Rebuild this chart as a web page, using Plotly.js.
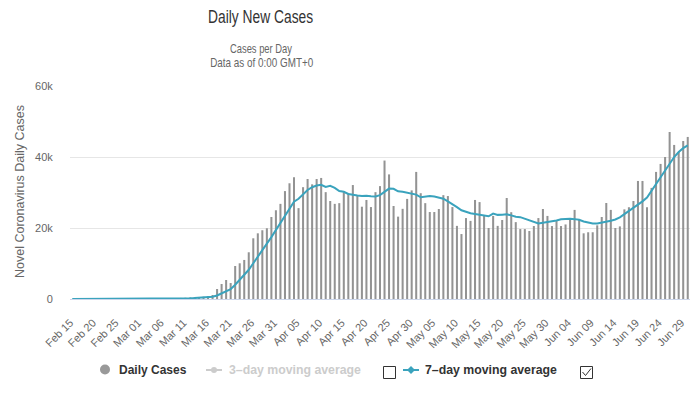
<!DOCTYPE html>
<html>
<head>
<meta charset="utf-8">
<script src="https://cdn.plot.ly/plotly-3.0.1.min.js"></script>
<style>
html,body{margin:0;padding:0;background:#fff;}
#chart{width:699px;height:394px;}
</style>
</head>
<body>
<div id="chart"></div>
<script>
const dates = [
"Feb 15","Feb 16","Feb 17","Feb 18","Feb 19","Feb 20","Feb 21","Feb 22","Feb 23","Feb 24","Feb 25","Feb 26","Feb 27","Feb 28","Feb 29",
"Mar 01","Mar 02","Mar 03","Mar 04","Mar 05","Mar 06","Mar 07","Mar 08","Mar 09","Mar 10","Mar 11","Mar 12","Mar 13","Mar 14","Mar 15","Mar 16","Mar 17","Mar 18","Mar 19","Mar 20","Mar 21","Mar 22","Mar 23","Mar 24","Mar 25","Mar 26","Mar 27","Mar 28","Mar 29","Mar 30","Mar 31",
"Apr 01","Apr 02","Apr 03","Apr 04","Apr 05","Apr 06","Apr 07","Apr 08","Apr 09","Apr 10","Apr 11","Apr 12","Apr 13","Apr 14","Apr 15","Apr 16","Apr 17","Apr 18","Apr 19","Apr 20","Apr 21","Apr 22","Apr 23","Apr 24","Apr 25","Apr 26","Apr 27","Apr 28","Apr 29","Apr 30",
"May 01","May 02","May 03","May 04","May 05","May 06","May 07","May 08","May 09","May 10","May 11","May 12","May 13","May 14","May 15","May 16","May 17","May 18","May 19","May 20","May 21","May 22","May 23","May 24","May 25","May 26","May 27","May 28","May 29","May 30","May 31",
"Jun 01","Jun 02","Jun 03","Jun 04","Jun 05","Jun 06","Jun 07","Jun 08","Jun 09","Jun 10","Jun 11","Jun 12","Jun 13","Jun 14","Jun 15","Jun 16","Jun 17","Jun 18","Jun 19","Jun 20","Jun 21","Jun 22","Jun 23","Jun 24","Jun 25","Jun 26","Jun 27","Jun 28","Jun 29","Jun 30"
];

const tickLabels = ["Feb 15","Feb 20","Feb 25","Mar 01","Mar 06","Mar 11","Mar 16","Mar 21","Mar 26","Mar 31","Apr 05","Apr 10","Apr 15","Apr 20","Apr 25","Apr 30","May 05","May 10","May 15","May 20","May 25","May 30","Jun 04","Jun 09","Jun 14","Jun 19","Jun 24","Jun 29"];

const dailyCases = [
// Feb 15 - Feb 29
0,0,0,0,0,0,2,0,0,18,0,6,1,2,8,
// Mar
6,23,20,31,68,45,140,116,65,300,350,400,500,550,650,800,1130,2820,4230,5360,4500,9300,10060,11000,13160,17100,18500,19370,19930,23100,25000,
// Apr
26800,30400,32600,34300,25600,31500,33800,32300,33800,34100,30100,27600,26800,27000,30100,29800,32100,29300,26000,27900,25900,30100,31800,39000,35100,26200,23200,25400,28200,30600,
// May
35800,29800,27000,24500,24500,25350,29250,29000,25900,20600,18300,22800,22000,27900,27300,23400,20000,23400,20600,22250,28450,24450,21650,19700,19700,19150,20550,22800,25350,23400,20550,
// Jun
21950,20550,21000,22550,25100,22450,18500,18800,18800,20750,23100,27050,25100,20000,20450,25250,25850,27600,33250,33250,25850,31300,35800,38050,40000,47050,43400,41400,44500,45650
];

const movingAvg7 = [
// Feb 15 - Feb 29
0,0,0,0,0,0,0,0,0,3,3,4,4,4,5,
// Mar
5,8,10,13,22,28,45,60,68,110,160,210,270,360,440,510,630,980,1530,2220,2780,4020,5340,6750,8230,10070,11950,14070,15590,17440,19440,
// Apr
21390,23280,25290,27430,28230,29450,30700,31480,31970,32190,31590,31880,31300,30400,30200,29600,29300,29150,29000,29100,28950,28900,29250,30300,31100,31050,30350,30200,30000,29700,
// May
29400,28650,28750,29000,28850,28500,28250,27500,26800,25900,25000,24550,24150,23950,23700,23400,23300,24050,23700,23750,23850,23550,23150,23050,22600,22300,21850,21300,21500,21700,21750,
// Jun
22100,22450,22600,22600,22500,22300,21850,21450,21250,21300,21500,21800,22050,22400,23000,23900,24800,25600,26500,27500,28600,30500,32500,34500,36400,38300,40000,41400,42500,43300
];

const yTickVals = [0, 20000, 40000, 60000];
const yTickText = ["0", "20k", "40k", "60k"];

// pixel -> paper helpers (plot area: x 70..690, y 86..299)
const PL = 70, PW = 620, PT = 86, PH = 213;
const X = px => (px - PL) / PW;
const Y = py => (PT + PH - py) / PH;

const barColor = "#939393";
const lineColor = "#3aa3bd";
const sans = "Liberation Sans, Arial, Helvetica, sans-serif";

const traces = [
  {
    type: "bar",
    x: dates,
    y: dailyCases,
    marker: {color: barColor},
    hoverinfo: "skip",
    showlegend: false
  },
  {
    type: "scatter",
    mode: "lines",
    x: dates,
    y: movingAvg7,
    line: {color: lineColor, width: 2},
    cliponaxis: false,
    hoverinfo: "skip",
    showlegend: false
  }
];

const shapes = [
  {type:"circle", xref:"paper", yref:"paper", x0:X(100), x1:X(110), y0:Y(374.5), y1:Y(364.5), fillcolor:"#999999", line:{width:0}},
  {type:"line", xref:"paper", yref:"paper", x0:X(206), x1:X(222), y0:Y(370), y1:Y(370), line:{color:"#cccccc", width:2}},
  {type:"circle", xref:"paper", yref:"paper", x0:X(211), x1:X(217), y0:Y(373), y1:Y(367), fillcolor:"#cccccc", line:{width:0}},
  {type:"rect", xref:"paper", yref:"paper", x0:X(383.5), x1:X(395.5), y0:Y(378.5), y1:Y(366.5), fillcolor:"#ffffff", line:{color:"#333333", width:1}},
  {type:"line", xref:"paper", yref:"paper", x0:X(403), x1:X(419), y0:Y(370), y1:Y(370), line:{color:lineColor, width:2}},
  {type:"path", xref:"paper", yref:"paper",
   path:"M "+X(411)+" "+Y(366)+" L "+X(415)+" "+Y(370)+" L "+X(411)+" "+Y(374)+" L "+X(407)+" "+Y(370)+" Z",
   fillcolor:lineColor, line:{width:0}},
  {type:"rect", xref:"paper", yref:"paper", x0:X(580.5), x1:X(592.5), y0:Y(378.5), y1:Y(366.5), fillcolor:"#ffffff", line:{color:"#333333", width:1}},
  {type:"path", xref:"paper", yref:"paper",
   path:"M "+X(582.5)+" "+Y(372)+" L "+X(585.5)+" "+Y(375.5)+" L "+X(591)+" "+Y(368.5),
   line:{color:"#333333", width:1}}
];

const titleText = "Daily New Cases";
const sub1 = "Cases per Day";
const sub2 = "Data as of 0:00 GMT+0";

const annotations = [
  {text:titleText, xref:"paper", yref:"paper", x:X(260.5), y:Y(17.5), xanchor:"center", yanchor:"middle", showarrow:false,
   font:{family:sans, size:17.5, color:"#333333"}},
  {text:sub1, xref:"paper", yref:"paper", x:X(261), y:Y(48.5), xanchor:"center", yanchor:"middle", showarrow:false,
   font:{family:sans, size:13, color:"#666666"}},
  {text:sub2, xref:"paper", yref:"paper", x:X(261), y:Y(62.5), xanchor:"center", yanchor:"middle", showarrow:false,
   font:{family:sans, size:13, color:"#666666"}},
  {text:"Novel Coronavirus Daily Cases", xref:"paper", yref:"paper", x:X(19.5), y:Y(191.5), xanchor:"center", yanchor:"middle", textangle:-90, showarrow:false,
   font:{family:sans, size:12.5, color:"#666666"}},
  {text:"<b>Daily Cases</b>", xref:"paper", yref:"paper", x:X(117), y:Y(370), xanchor:"left", yanchor:"middle", showarrow:false,
   font:{family:sans, size:12, color:"#333333"}},
  {text:"<b>3\u2013day moving average</b>", xref:"paper", yref:"paper", x:X(227), y:Y(370), xanchor:"left", yanchor:"middle", showarrow:false,
   font:{family:sans, size:12.3, color:"#cccccc"}},
  {text:"<b>7\u2013day moving average</b>", xref:"paper", yref:"paper", x:X(423), y:Y(370), xanchor:"left", yanchor:"middle", showarrow:false,
   font:{family:sans, size:12.3, color:"#333333"}}
];

const layout = {
  width: 699,
  height: 394,
  margin: {l: PL, r: 699 - PL - PW, t: PT, b: 394 - PT - PH, pad: 0},
  paper_bgcolor: "#ffffff",
  plot_bgcolor: "#ffffff",
  bargap: 0.55,
  showlegend: false,
  xaxis: {
    type: "category",
    tickmode: "array",
    tickvals: tickLabels,
    ticktext: tickLabels,
    tickangle: -45,
    tickfont: {family: sans, size: 11, color: "#666666"},
    ticks: "outside",
    ticklen: 4,
    tickcolor: "rgba(0,0,0,0)",
    ticklabelstandoff: 8,
    ticklabelshift: -2,
    showgrid: false,
    showline: true,
    linecolor: "#ccd6eb",
    linewidth: 1,
    zeroline: false,
    fixedrange: true
  },
  yaxis: {
    range: [0, 60000],
    tickmode: "array",
    tickvals: yTickVals,
    ticktext: yTickText,
    tickfont: {family: sans, size: 11, color: "#666666"},
    ticks: "outside",
    ticklen: 14,
    tickcolor: "rgba(0,0,0,0)",
    showgrid: true,
    gridcolor: "#e6e6e6",
    gridwidth: 1,
    zeroline: false,
    showline: false,
    fixedrange: true
  },
  shapes: shapes,
  annotations: annotations
};

// condensed rendering widths for the title block (the reference uses a narrow face)
const fitWidths = {};
fitWidths[titleText] = 105;
fitWidths[sub1] = 62;
fitWidths[sub2] = 103;

Plotly.newPlot("chart", traces, layout, {staticPlot: true, displayModeBar: false}).then(function () {
  document.querySelectorAll("#chart text.annotation-text").forEach(function (t) {
    const w = fitWidths[t.textContent];
    if (w) {
      t.setAttribute("textLength", w);
      t.setAttribute("lengthAdjust", "spacingAndGlyphs");
    }
  });
});
</script>
</body>
</html>
